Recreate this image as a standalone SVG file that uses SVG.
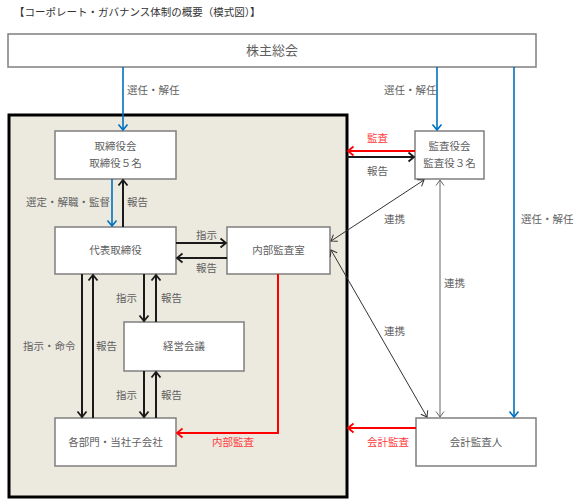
<svg xmlns="http://www.w3.org/2000/svg" width="576" height="502" viewBox="0 0 576 502">
<style>
text{font-family:"Noto Sans CJK JP","Noto Sans CJK SC",sans-serif;font-size:10.5px;fill:#5f5f5f}
.title{font-size:10.5px;fill:#333}
.big{font-size:13px}
.red{fill:#FF3B3B}
.box{fill:#fff;stroke:#7F7F7F;stroke-width:1.5}
.blue{stroke:#0070C0;stroke-width:1.6;fill:none;marker-end:url(#mb)}
.blk{stroke:#1a1a1a;stroke-width:2;fill:none;marker-end:url(#mk)}
.rd{stroke:#FF0000;stroke-width:2;fill:none;marker-end:url(#mr)}
.thin{stroke:#333;stroke-width:1;fill:none;marker-end:url(#mt);marker-start:url(#mt)}
.gray{stroke:#666;stroke-width:1;fill:none;marker-end:url(#mg);marker-start:url(#mg)}
</style>
<defs>
<marker id="mb" markerUnits="userSpaceOnUse" markerWidth="12" markerHeight="12" viewBox="-7 -6 8 12" refX="0" refY="0" orient="auto"><path d="M-5.5,-4.5 L0,0 L-5.5,4.5" fill="none" stroke="#0070C0" stroke-width="1.6"/></marker>
<marker id="mk" markerUnits="userSpaceOnUse" markerWidth="12" markerHeight="12" viewBox="-7 -6 8 12" refX="0" refY="0" orient="auto"><path d="M-5.5,-4.5 L0,0 L-5.5,4.5" fill="none" stroke="#1a1a1a" stroke-width="1.8"/></marker>
<marker id="mr" markerUnits="userSpaceOnUse" markerWidth="12" markerHeight="12" viewBox="-7 -6 8 12" refX="0" refY="0" orient="auto"><path d="M-5.5,-4.5 L0,0 L-5.5,4.5" fill="none" stroke="#FF0000" stroke-width="1.8"/></marker>
<marker id="mt" markerUnits="userSpaceOnUse" markerWidth="12" markerHeight="12" viewBox="-7 -6 8 12" refX="0" refY="0" orient="auto-start-reverse"><path d="M-5.5,-4 L0,0 L-5.5,4" fill="none" stroke="#333" stroke-width="1"/></marker>
<marker id="mg" markerUnits="userSpaceOnUse" markerWidth="12" markerHeight="12" viewBox="-7 -6 8 12" refX="0" refY="0" orient="auto-start-reverse"><path d="M-5.5,-4 L0,0 L-5.5,4" fill="none" stroke="#666" stroke-width="1"/></marker>
</defs>
<rect width="576" height="502" fill="#fff"/>
<text class="title" x="14" y="16">【コーポレート・ガバナンス体制の概要（模式図）】</text>

<g id="container"><rect x="9" y="115" width="338" height="382" fill="#ECE9DF" stroke="#000" stroke-width="3"/></g>

<g id="kabunushi"><rect class="box" x="8" y="34" width="528" height="33"/><text class="big" x="272" y="55" text-anchor="middle">株主総会</text></g>
<g id="torishimariyakukai"><rect class="box" x="55" y="131" width="121" height="48"/><text x="115.5" y="150" text-anchor="middle">取締役会</text><text x="115.5" y="167" text-anchor="middle">取締役５名</text></g>
<g id="daihyo"><rect class="box" x="55" y="227" width="121" height="47"/><text x="115.5" y="254" text-anchor="middle">代表取締役</text></g>
<g id="naibu"><rect class="box" x="227" y="227" width="103" height="47"/><text x="278.5" y="254" text-anchor="middle">内部監査室</text></g>
<g id="keiei"><rect class="box" x="124" y="322" width="120" height="49"/><text x="184" y="350" text-anchor="middle">経営会議</text></g>
<g id="kakubumon"><rect class="box" x="55" y="418" width="121" height="48"/><text x="115.5" y="446" text-anchor="middle">各部門・当社子会社</text></g>
<g id="kansayakukai"><rect class="box" x="415" y="131" width="69" height="48"/><text x="449.5" y="150" text-anchor="middle">監査役会</text><text x="449.5" y="167" text-anchor="middle">監査役３名</text></g>
<g id="kaikei"><rect class="box" x="416" y="418" width="120" height="48"/><text x="476" y="446" text-anchor="middle">会計監査人</text></g>

<g id="connectors">
<line class="blue" x1="123" y1="67" x2="123" y2="130"/>
<line class="blue" x1="437" y1="67" x2="437" y2="130"/>
<line class="blue" x1="514" y1="67" x2="514" y2="417"/>
<line class="blue" x1="112" y1="179" x2="112" y2="226"/>
<line class="blk" x1="123" y1="227" x2="123" y2="180"/>
<line class="blk" x1="176" y1="243" x2="226" y2="243"/>
<line class="blk" x1="227" y1="258" x2="177" y2="258"/>
<line class="blk" x1="144" y1="274" x2="144" y2="321"/>
<line class="blk" x1="156" y1="322" x2="156" y2="275"/>
<line class="blk" x1="144" y1="371" x2="144" y2="417"/>
<line class="blk" x1="156" y1="418" x2="156" y2="372"/>
<line class="blk" x1="82" y1="274" x2="82" y2="417"/>
<line class="blk" x1="93" y1="418" x2="93" y2="275"/>
<line class="blk" x1="347" y1="157" x2="414" y2="157"/>
<line class="rd" x1="415" y1="151" x2="348" y2="151"/>
<line class="rd" x1="416" y1="428" x2="348" y2="428"/>
<polyline class="rd" points="278,274 278,433 177,433"/>
<line class="gray" x1="440" y1="180" x2="440" y2="417"/>
<line class="thin" x1="424" y1="180" x2="331" y2="241"/>
<line class="thin" x1="331" y1="250" x2="427" y2="417"/>
</g>

<g id="labels">
<text x="127" y="94">選任・解任</text>
<text x="384" y="94">選任・解任</text>
<text x="521" y="223">選任・解任</text>
<text x="26" y="206">選定・解職・監督</text>
<text x="127" y="206">報告</text>
<text x="196" y="239">指示</text>
<text x="196" y="272">報告</text>
<text x="116" y="302">指示</text>
<text x="161" y="302">報告</text>
<text x="116" y="399">指示</text>
<text x="161" y="399">報告</text>
<text x="23" y="350">指示・命令</text>
<text x="96" y="350">報告</text>
<text class="red" x="212" y="446">内部監査</text>
<text class="red" x="367" y="142">監査</text>
<text x="367" y="175">報告</text>
<text class="red" x="367" y="446">会計監査</text>
<text x="384" y="223">連携</text>
<text x="444" y="287">連携</text>
<text x="384" y="335">連携</text>
</g>
</svg>
